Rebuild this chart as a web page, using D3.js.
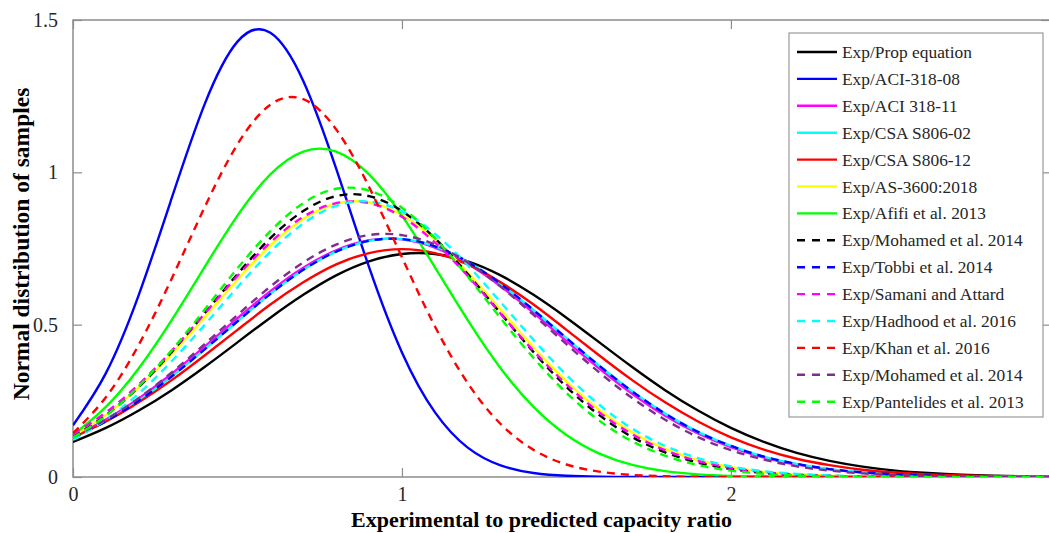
<!DOCTYPE html>
<html>
<head>
<meta charset="utf-8">
<script src="https://cdn.jsdelivr.net/npm/d3@7"></script>
<style>
  body { margin: 0; background: #fff; }
  svg { display: block; font-family: "Liberation Serif", "Times New Roman", serif; }
</style>
</head>
<body>
<div id="chart"></div>
<script>
// x-values the curves are sampled at (experimental / predicted)
const ratio = [0, 0.1, 0.2, 0.3, 0.4, 0.5, 0.6, 0.7, 0.8, 0.9, 1.0, 1.1, 1.2, 1.3, 1.4, 1.5,
  1.6, 1.7, 1.8, 1.9, 2.0, 2.1, 2.2, 2.3, 2.4, 2.5, 2.6, 2.7, 2.8, 2.9, 3.0];

// normal distribution values, one array per series
const propEq = [0.115, 0.161, 0.218, 0.285, 0.361, 0.442, 0.523, 0.598, 0.662, 0.708, 0.732, 0.732, 0.708, 0.662, 0.598, 0.523,
  0.442, 0.361, 0.285, 0.218, 0.161, 0.115, 0.079, 0.053, 0.034, 0.021, 0.013, 0.0075, 0.0042, 0.0023, 0.0012];
const aci31808 = [0.170, 0.341, 0.598, 0.915, 1.223, 1.429, 1.458, 1.300, 1.012, 0.689, 0.409, 0.213, 0.0965, 0.0382, 0.0132, 0.0040,
  0.0011, 0.0002, 0, 0, 0, 0, 0, 0, 0, 0, 0, 0, 0, 0, 0];
const aci31811 = [0.133, 0.189, 0.258, 0.339, 0.428, 0.521, 0.610, 0.687, 0.744, 0.777, 0.780, 0.753, 0.700, 0.626, 0.539, 0.446,
  0.356, 0.273, 0.201, 0.143, 0.098, 0.064, 0.041, 0.025, 0.0145, 0.0082, 0.0044, 0.0023, 0.0012, 0.0006, 0.0003];
const csa80602 = [0.128, 0.183, 0.250, 0.330, 0.419, 0.511, 0.601, 0.680, 0.740, 0.775, 0.781, 0.757, 0.706, 0.634, 0.548, 0.456,
  0.365, 0.281, 0.208, 0.148, 0.102, 0.067, 0.043, 0.026, 0.0153, 0.0087, 0.0047, 0.0025, 0.0012, 0.0006, 0.0003];
const csa80612 = [0.130, 0.182, 0.245, 0.318, 0.399, 0.483, 0.566, 0.639, 0.698, 0.735, 0.748, 0.735, 0.698, 0.639, 0.566, 0.483,
  0.399, 0.318, 0.245, 0.182, 0.130, 0.090, 0.060, 0.039, 0.024, 0.0147, 0.0085, 0.0048, 0.0026, 0.0014, 0.0007];
const as3600 = [0.134, 0.204, 0.294, 0.403, 0.524, 0.648, 0.760, 0.847, 0.897, 0.901, 0.860, 0.780, 0.671, 0.549, 0.426, 0.314,
  0.220, 0.146, 0.092, 0.055, 0.032, 0.017, 0.0088, 0.0043, 0.0020, 0.0009, 0.0004, 0.0001, 0, 0, 0];
const afifi = [0.138, 0.230, 0.357, 0.515, 0.689, 0.858, 0.993, 1.068, 1.068, 0.993, 0.858, 0.689, 0.515, 0.357, 0.230, 0.138,
  0.077, 0.040, 0.0192, 0.0086, 0.0036, 0.0014, 0.0005, 0.0002, 0, 0, 0, 0, 0, 0, 0];
const mohamed1 = [0.131, 0.203, 0.296, 0.410, 0.537, 0.666, 0.784, 0.873, 0.922, 0.922, 0.873, 0.784, 0.666, 0.537, 0.410, 0.296,
  0.203, 0.131, 0.081, 0.047, 0.026, 0.0136, 0.0067, 0.0031, 0.0014, 0.0006, 0.0002, 0, 0, 0, 0];
const tobbi = [0.128, 0.183, 0.250, 0.330, 0.419, 0.511, 0.601, 0.680, 0.740, 0.775, 0.781, 0.757, 0.706, 0.634, 0.548, 0.456,
  0.365, 0.281, 0.208, 0.148, 0.102, 0.067, 0.043, 0.026, 0.0153, 0.0087, 0.0047, 0.0025, 0.0012, 0.0006, 0.0003];
const samani = [0.140, 0.212, 0.304, 0.414, 0.536, 0.660, 0.770, 0.854, 0.899, 0.899, 0.854, 0.770, 0.660, 0.536, 0.414, 0.304,
  0.212, 0.140, 0.088, 0.0525, 0.030, 0.016, 0.0082, 0.0040, 0.0018, 0.0008, 0.0003, 0, 0, 0, 0];
const hadhood = [0.122, 0.188, 0.274, 0.380, 0.499, 0.623, 0.739, 0.832, 0.890, 0.904, 0.872, 0.799, 0.695, 0.574, 0.450, 0.335,
  0.237, 0.159, 0.102, 0.062, 0.035, 0.019, 0.010, 0.0050, 0.0023, 0.0010, 0.0004, 0.0002, 0, 0, 0];
const khan = [0.144, 0.262, 0.434, 0.651, 0.885, 1.092, 1.222, 1.240, 1.141, 0.952, 0.721, 0.495, 0.308, 0.174, 0.089, 0.041,
  0.0175, 0.0067, 0.0023, 0.0007, 0.0002, 0, 0, 0, 0, 0, 0, 0, 0, 0, 0];
const mohamed2 = [0.131, 0.188, 0.259, 0.343, 0.436, 0.532, 0.625, 0.704, 0.763, 0.794, 0.794, 0.763, 0.704, 0.625, 0.532, 0.436,
  0.343, 0.259, 0.188, 0.131, 0.088, 0.057, 0.035, 0.021, 0.0119, 0.0065, 0.0034, 0.0017, 0.0008, 0.0004, 0.0002];
const pantelides = [0.129, 0.201, 0.298, 0.416, 0.549, 0.685, 0.807, 0.899, 0.946, 0.940, 0.884, 0.784, 0.658, 0.521, 0.391, 0.276,
  0.185, 0.117, 0.070, 0.039, 0.021, 0.0105, 0.0050, 0.0023, 0.0010, 0.0004, 0.0001, 0, 0, 0, 0];

// legend names, in plotting order
const seriesNames = ["Exp/Prop equation", "Exp/ACI-318-08", "Exp/ACI 318-11", "Exp/CSA S806-02", "Exp/CSA S806-12",
  "Exp/AS-3600:2018", "Exp/Afifi et al. 2013", "Exp/Mohamed et al. 2014", "Exp/Tobbi et al. 2014",
  "Exp/Samani and Attard", "Exp/Hadhood et al. 2016", "Exp/Khan et al. 2016", "Exp/Mohamed et al. 2014",
  "Exp/Pantelides et al. 2013"];
const seriesValues = [propEq, aci31808, aci31811, csa80602, csa80612, as3600, afifi, mohamed1, tobbi,
  samani, hadhood, khan, mohamed2, pantelides];

const xTicks = [0, 1, 2];
const yTicks = [0, 0.5, 1, 1.5];

// styles
const colors = ["#000000", "#0000ff", "#ff00ff", "#00ffff", "#ff0000", "#ffff00", "#00ff00",
  "#000000", "#0000ff", "#ff00ff", "#00ffff", "#ff0000", "#7e2f8e", "#00ff00"];
const dashed = [false, false, false, false, false, false, false, true, true, true, true, true, true, true];

// dimensioner
const margin = { top: 20, right: -1, bottom: 56, left: 73 };
const width = 1049 - margin.left - margin.right;
const height = 533 - margin.top - margin.bottom;

const svg = d3
  .select("#chart")
  .append("svg")
  .attr("width", 1049)
  .attr("height", 533)
  .append("g")
  .attr("transform", `translate(${margin.left},${margin.top})`);

const x = d3.scaleLinear().domain([0, 2.97]).range([0, width]);
const y = d3.scaleLinear().domain([0, 1.5]).range([height, 0]);

const axisColor = "#262626";
const boxColor = "#8c8c8c";

svg.append("clipPath").attr("id", "plotClip")
  .append("rect").attr("width", width).attr("height", height);

// box
svg.append("rect")
  .attr("width", width)
  .attr("height", height)
  .attr("fill", "none")
  .attr("stroke", boxColor)
  .attr("stroke-width", 1.5);

// ticks on all four sides, pointing inward
const xAxis = svg.append("g")
  .attr("transform", `translate(0,${height})`)
  .call(d3.axisBottom(x).tickValues(xTicks).tickFormat(d3.format("d")).tickSizeInner(-9).tickSizeOuter(0).tickPadding(10));
const xTop = svg.append("g")
  .call(d3.axisTop(x).tickValues(xTicks).tickFormat("").tickSizeInner(-9).tickSizeOuter(0));
const yAxis = svg.append("g")
  .call(d3.axisLeft(y).tickValues(yTicks).tickFormat(d3.format("")).tickSizeInner(-9).tickSizeOuter(0).tickPadding(15));
const yRight = svg.append("g")
  .attr("transform", `translate(${width},0)`)
  .call(d3.axisRight(y).tickValues(yTicks).tickFormat("").tickSizeInner(-9).tickSizeOuter(0));

[xAxis, xTop, yAxis, yRight].forEach((g) => {
  g.select(".domain").remove();
  g.selectAll("line").attr("stroke", boxColor).attr("stroke-width", 1.2);
  g.selectAll("text")
    .attr("fill", axisColor)
    .style("font-family", '"Liberation Serif", "Times New Roman", serif')
    .style("font-size", "20px");
});

// akse labels
svg.append("text")
  .attr("x", width / 2 - 20)
  .attr("y", height + 50)
  .attr("text-anchor", "middle")
  .style("font-size", "22px")
  .style("font-weight", "bold")
  .attr("fill", "#000")
  .text("Experimental to predicted capacity ratio");

svg.append("text")
  .attr("transform", `translate(-44,${244 - margin.top}) rotate(-90)`)
  .attr("text-anchor", "middle")
  .style("font-size", "23.5px")
  .style("font-weight", "bold")
  .attr("fill", "#000")
  .text("Normal distribution of samples");

// kurver
const line = d3.line()
  .x((d) => x(d[0]))
  .y((d) => y(d[1]))
  .curve(d3.curveNatural);

const curves = svg.append("g").attr("clip-path", "url(#plotClip)");
seriesValues.forEach((vals, i) => {
  curves.append("path")
    .datum(ratio.map((r, j) => [r, vals[j]]))
    .attr("fill", "none")
    .attr("stroke", colors[i])
    .attr("stroke-width", 2.4)
    .attr("stroke-dasharray", dashed[i] ? "8,6" : null)
    .attr("d", line);
});

// legend
const legendX = 789 - margin.left;
const legendY = 33 - margin.top;
const legend = svg.append("g").attr("transform", `translate(${legendX},${legendY})`);
legend.append("rect")
  .attr("width", 254)
  .attr("height", 384)
  .attr("fill", "#fff")
  .attr("stroke", "#999")
  .attr("stroke-width", 1.2);

seriesNames.forEach((name, i) => {
  const row = legend.append("g").attr("transform", `translate(0,${19 + i * 26.9})`);
  row.append("line")
    .attr("x1", 8)
    .attr("x2", 48)
    .attr("stroke", colors[i])
    .attr("stroke-width", 2.4)
    .attr("stroke-dasharray", dashed[i] ? "8,7" : null);
  row.append("text")
    .attr("x", 53)
    .attr("y", 6)
    .style("font-size", "17.4px")
    .attr("fill", axisColor)
    .text(name);
});
</script>
</body>
</html>
